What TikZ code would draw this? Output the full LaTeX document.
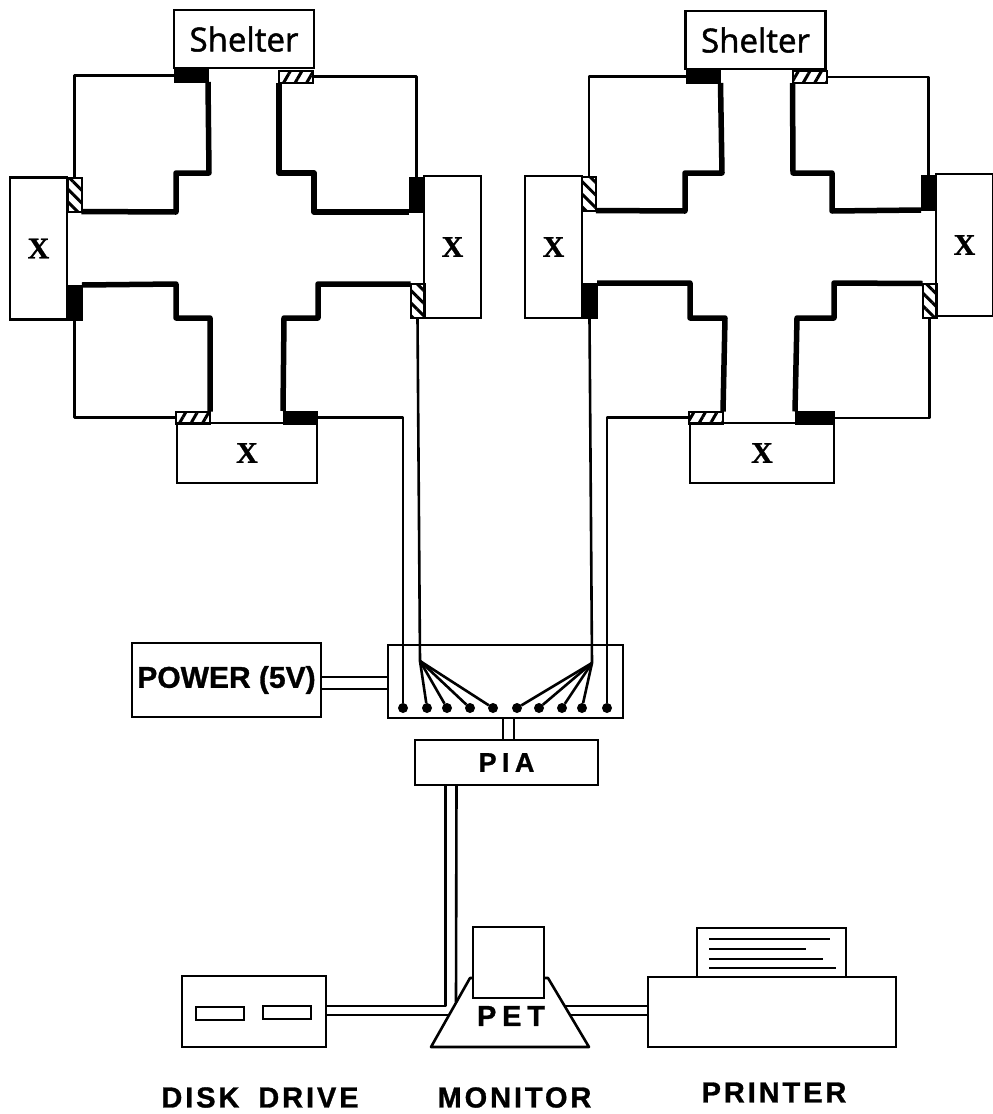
\documentclass[tikz,border=0pt]{standalone}
\usepackage{fontspec}
\setmainfont{Liberation Sans}[BoldFeatures={RawFeature={embolden=1}}]
\newfontfamily\signfont[RawFeature={embolden=1.5}]{Open Sans}
\newfontfamily\markfont{Liberation Serif}[BoldFeatures={RawFeature={embolden=1}}]
\newfontfamily\wideafont[LetterSpace=10, BoldFeatures={RawFeature={embolden=1}}]{Liberation Sans}
\newfontfamily\tallyfont[LetterSpace=20, BoldFeatures={RawFeature={embolden=1}}]{Liberation Sans}
\usetikzlibrary{patterns.meta}

\begin{document}
\begin{tikzpicture}[
    x=1pt, y=-1pt,
    box/.style={draw, line width=2.8pt, inner sep=0pt, outer sep=0pt, align=center},
    shelterbox/.style={box, minimum width=140pt, minimum height=58pt,
                       font=\signfont\fontsize{33}{36}\selectfont},
    xwide/.style={box, minimum width=140pt, minimum height=60pt,
                  font=\markfont\bfseries\fontsize{30}{32}\selectfont},
    xtall/.style={box, minimum width=57pt, minimum height=142pt,
                  font=\markfont\bfseries\fontsize{30}{32}\selectfont},
    solidh/.style={draw, fill=black, inner sep=0pt, outer sep=0pt, minimum width=34pt, minimum height=13pt},
    solidv/.style={draw, fill=black, inner sep=0pt, outer sep=0pt, minimum width=15pt, minimum height=35pt},
    hatchh/.style={draw, line width=2pt, inner sep=0pt, outer sep=0pt, minimum width=34pt, minimum height=12pt,
                   pattern={Lines[angle=60, distance=10pt, line width=3pt]}},
    hatchv/.style={draw, line width=2pt, inner sep=0pt, outer sep=0pt, minimum width=14pt, minimum height=34pt,
                   pattern={Lines[angle=-45, distance=9pt, line width=3pt]}},
    wall/.style={line width=5.5pt, line join=round},
    wire/.style={line width=2.6pt, line join=round},
    dot/.style={circle, fill=black, inner sep=0pt, outer sep=0pt, minimum size=10pt},
    devname/.style={font=\wideafont\bfseries\fontsize{29}{32}\selectfont},
  ]

  \useasboundingbox (0,0) rectangle (993,1114);

  % left module
  \node[shelterbox] (shelterA) at (244,39) {Shelter};
  \node[xtall] (westA) at (38.5,248.5) {X};
  \node[xtall] (eastA) at (452.5,247) {X};
  \node[xwide] (southA) at (247,453) {X};

  \node[solidh] (sTopA) at (191,75.5) {};
  \node[hatchh] (hTopA) at (296,76.5) {};
  \node[hatchv] (hWestA) at (74.5,194.5) {};
  \node[solidv] (sWestA) at (74.5,302.5) {};
  \node[solidv] (sEastA) at (416.5,194.5) {};
  \node[hatchv] (hEastA) at (417.5,301) {};
  \node[hatchh] (hSouthA) at (193,417.5) {};
  \node[solidh] (sSouthA) at (300,417.5) {};

  \draw[wall] (sTopA.south east) -- (209,173) -- (176,173) -- (176,212) -- (hWestA.south east);
  \draw[wall] (hTopA.south west) -- (279,173) -- (314,173) -- (314,212) -- (sEastA.south west);
  \draw[wall] (hEastA.north west) -- (318,284) -- (318,318) -- (284,318) -- (sSouthA.north west);
  \draw[wall] (sWestA.north east) -- (176,284) -- (176,318) -- (210,318) -- (hSouthA.north east);

  \draw[wire] (sTopA.west) -| (hWestA.north);
  \draw[wire] (hTopA.east) -| (sEastA.north);
  \draw[wire] (sWestA.south) |- (hSouthA.west);

  % right module
  \node[shelterbox] (shelterB) at (755.5,40) {Shelter};
  \node[xtall] (westB) at (553.5,247) {X};
  \node[xtall] (eastB) at (964.5,245) {X};
  \node[xwide, minimum width=144pt] (southB) at (762,453) {X};

  \node[solidh] (sTopB) at (703.5,76.5) {};
  \node[hatchh] (hTopB) at (809.5,77) {};
  \node[hatchv] (hWestB) at (589,193.5) {};
  \node[solidv] (sWestB) at (589.5,300.5) {};
  \node[solidv] (sEastB) at (928.5,192.5) {};
  \node[hatchv] (hEastB) at (929.5,300.5) {};
  \node[hatchh] (hSouthB) at (706,417.5) {};
  \node[solidh, minimum width=39pt] (sSouthB) at (814.5,418) {};

  \draw[wall] (sTopB.south east) -- (722,173) -- (685,173) -- (685,211) -- (hWestB.south east);
  \draw[wall] (hTopB.south west) -- (793,173) -- (832,173) -- (832,211) -- (sEastB.south west);
  \draw[wall] (hEastB.north west) -- (834,283) -- (834,318) -- (797,318) -- (sSouthB.north west);
  \draw[wall] (sWestB.north east) -- (690,283) -- (690,318) -- (725,318) -- (hSouthB.north east);

  \draw[wire] (sTopB.west) -| (hWestB.north);
  \draw[wire] (hTopB.east) -| (sEastB.north);
  \draw[wire] (sSouthB.east) -| (hEastB.south);

  % board
  \node[box, minimum width=235pt, minimum height=73pt] (board) at (505.5,681.5) {};
  \node[box, minimum width=189pt, minimum height=74pt, font=\bfseries\fontsize{30}{32}\selectfont] (power) at (226.5,680) {POWER (5V)};
  \node[box, minimum width=183pt, minimum height=45pt, font=\tallyfont\bfseries\fontsize{27}{29}\selectfont] (pia) at (506.5,762.5) {PIA};

  \node[dot] (pinA) at (403,708) {};
  \node[dot] (pinB) at (427,708) {};
  \node[dot] (pinC) at (447,708) {};
  \node[dot] (pinD) at (470,708) {};
  \node[dot] (pinE) at (493,708) {};
  \node[dot] (pinF) at (517,708) {};
  \node[dot] (pinG) at (539,708) {};
  \node[dot] (pinH) at (562,708) {};
  \node[dot] (pinI) at (582,708) {};
  \node[dot] (pinJ) at (607,708) {};

  \coordinate (fanA) at (420,661);
  \coordinate (fanB) at (592,663);

  \draw[wire] (sSouthA.east) -| (pinA.north);
  \draw[wire] (hEastA.south) -- (fanA);
  \draw[wire] (sWestB.south) -- (fanB);
  \draw[wire] (hSouthB.west) -| (pinJ.north);

  \draw[wire] (fanA) -- (pinB);
  \draw[wire] (fanA) -- (pinC);
  \draw[wire] (fanA) -- (pinD);
  \draw[wire] (fanA) -- (pinE);
  \draw[wire] (fanB) -- (pinF);
  \draw[wire] (fanB) -- (pinG);
  \draw[wire] (fanB) -- (pinH);
  \draw[wire] (fanB) -- (pinI);

  \draw[wire] ([yshift=3pt]power.east) -- ([yshift=3pt]power.east -| board.west);
  \draw[wire] ([yshift=-9pt]power.east) -- ([yshift=-9pt]power.east -| board.west);
  \draw[wire] (503,718) -- (503,740);
  \draw[wire] (514,718) -- (514,740);

  % computer
  \coordinate (petA) at (456,1002);
  \coordinate (petB) at (449,1015);
  \coordinate (petC) at (565,1006);
  \coordinate (petD) at (570,1015);
  \draw[wire] (470,978) -- (431,1047) -- (589,1047) -- (548,978) -- cycle;
  \node[box, fill=white, minimum width=71pt, minimum height=71pt] (monitor) at (508.5,962.5) {};
  \node[font=\tallyfont\bfseries\fontsize{29}{32}\selectfont] (petname) at (511,1016) {PET};

  \node[box, minimum width=144pt, minimum height=71pt] (disk) at (254,1011.5) {};
  \node[box, minimum width=48pt, minimum height=13pt] (slotA) at (220,1013.5) {};
  \node[box, minimum width=48pt, minimum height=13pt] (slotB) at (287,1012.5) {};

  \node[box, minimum width=149pt, minimum height=49pt] (paper) at (771.5,952.5) {};
  \node[box, minimum width=248pt, minimum height=70pt] (printer) at (772,1012) {};
  \coordinate (lineA) at (709,939);
  \coordinate (lineB) at (709,949);
  \coordinate (lineC) at (709,959);
  \coordinate (lineD) at (709,968);
  \draw[wire] (lineA) -- +(121,0);
  \draw[wire] (lineB) -- +(97,0);
  \draw[wire] (lineC) -- +(114,0);
  \draw[wire] (lineD) -- +(127,0);

  \draw[wire] ([xshift=-61pt]pia.south) |- ([yshift=5.5pt]disk.east);
  \draw[wire] ([xshift=-50pt]pia.south) -- (petA);
  \draw[wire] ([yshift=-3.5pt]disk.east) -- (petB);
  \draw[wire] (petC) -- ([yshift=6pt]printer.west);
  \draw[wire] (petD) -- ([yshift=-3pt]printer.west);

  \node[devname] (diskname) at (260,1097.5) {DISK\hspace{8pt} DRIVE};
  \node[devname] (monname) at (514.5,1097.5) {MONITOR};
  \node[devname] (printname) at (774,1092.5) {PRINTER};

\end{tikzpicture}
\end{document}
